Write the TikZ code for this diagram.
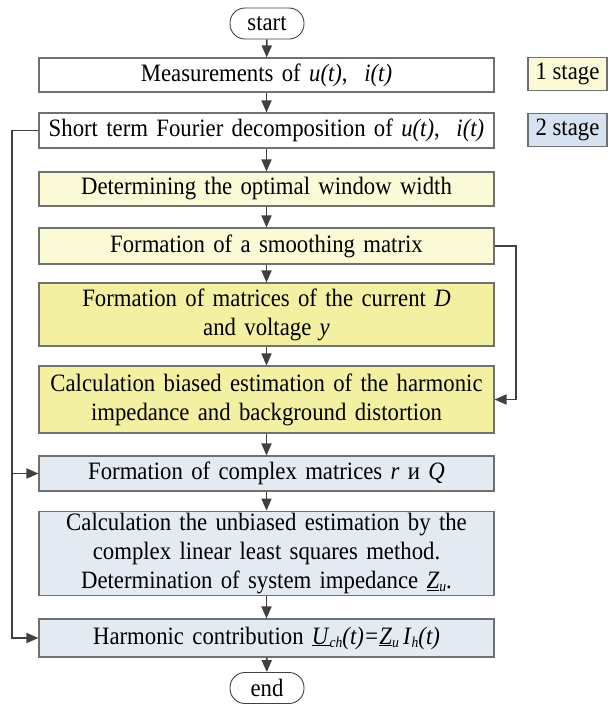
\documentclass[tikz,border=0pt]{standalone}
\usepackage{fontspec}
\setmainfont{Liberation Serif}[FakeStretch=0.91]
\usetikzlibrary{arrows.meta}

\definecolor{boxline}{RGB}{112,112,112}
\definecolor{arrline}{RGB}{64,64,64}
\definecolor{paleyellow}{RGB}{250,250,214}
\definecolor{deepyellow}{RGB}{244,240,162}
\definecolor{paleblue}{RGB}{228,234,242}
\definecolor{stageblue}{RGB}{214,226,240}

\newcommand{\lowsub}[1]{\raisebox{-0.3ex}{\fontsize{15}{15}\selectfont\textit{#1}}}

\begin{document}
\begin{tikzpicture}[
    x=1pt, y=-1pt,
    font=\fontsize{25}{29}\selectfont,
    block/.style={rectangle, draw=boxline, line width=1.1pt, minimum width=455pt, text width=449pt, inner sep=2pt, align=center},
    term/.style={rectangle, rounded corners=15pt, draw=arrline, line width=0.9pt, minimum width=74pt, minimum height=31pt, inner sep=1pt},
    stagebox/.style={rectangle, draw=boxline, line width=1.1pt, minimum width=79pt, minimum height=33pt, inner sep=1pt},
    arrow/.style={-{Triangle[length=12pt, width=10pt]}, line width=1.8pt, draw=arrline}
]
\useasboundingbox (0,0) rectangle (612,705);

% Start and end
\node[term] (start) at (267,23.5) {start};
\node[term] (stop) at (267,688) {end};

% Stage legend
\node[stagebox, fill=paleyellow] (stage1) at (567.5,74) {1 stage};
\node[stagebox, fill=stageblue] (stage2) at (567.5,130) {2 stage};

% First stage
\node[block, minimum height=34pt] (meas) at (266.5,75) {Measurements of \textit{u(t)},~ \textit{i(t)}};
\node[block, minimum height=35pt] (fourier) at (266.5,130.5) {Short term Fourier decomposition of \textit{u(t)},~ \textit{i(t)}};
\node[block, minimum height=34pt, fill=paleyellow] (window) at (266.5,189) {Determining the optimal window width};
\node[block, minimum height=36pt, fill=paleyellow] (smooth) at (266.5,246) {Formation of a smoothing matrix};
\node[block, minimum height=63pt, fill=deepyellow] (matD) at (266.5,314.5) {Formation of matrices of the current \textit{D}\\ and voltage \textit{y}};
\node[block, minimum height=67pt, fill=deepyellow] (biased) at (266.5,399.5) {Calculation biased estimation of the harmonic\\ impedance and background distortion};

% Second stage
\node[block, minimum height=35pt, fill=paleblue] (complex) at (266.5,473.5) {Formation of complex matrices \textit{r} и \textit{Q}};
\node[block, minimum height=81pt, fill=paleblue] (unbiased) at (266.5,553.5) {Calculation the unbiased estimation by the\\ complex linear least squares method.\\ Determination of system impedance \underline{\textit{Z}}\lowsub{u}.};
\node[block, minimum height=38pt, fill=paleblue] (harmonic) at (266.5,638) {Harmonic contribution \underline{\textit{U}}\lowsub{ch}\textit{(t)=}\underline{\textit{Z}}\lowsub{u}\,\textit{I}\lowsub{h}\textit{(t)}};

% Loop points
\coordinate (loopL) at (12,130.5);
\coordinate (loopR) at (516,246);

% Arrows
\draw[arrow] (start) -- (meas);
\draw[arrow] (meas) -- (fourier);
\draw[arrow] (fourier) -- (window);
\draw[arrow] (window) -- (smooth);
\draw[arrow] (smooth) -- (matD);
\draw[arrow] (matD) -- (biased);
\draw[arrow] (biased) -- (complex);
\draw[arrow] (complex) -- (unbiased);
\draw[arrow] (unbiased) -- (harmonic);
\draw[arrow] (harmonic) -- (stop);

% Bypass lines
\draw[arrow] (fourier.west) -- (loopL) |- (harmonic.west);
\draw[arrow] (loopL |- complex.west) -- (complex.west);
\draw[arrow] (smooth.east) -- (loopR) |- (biased.east);

\end{tikzpicture}
\end{document}
